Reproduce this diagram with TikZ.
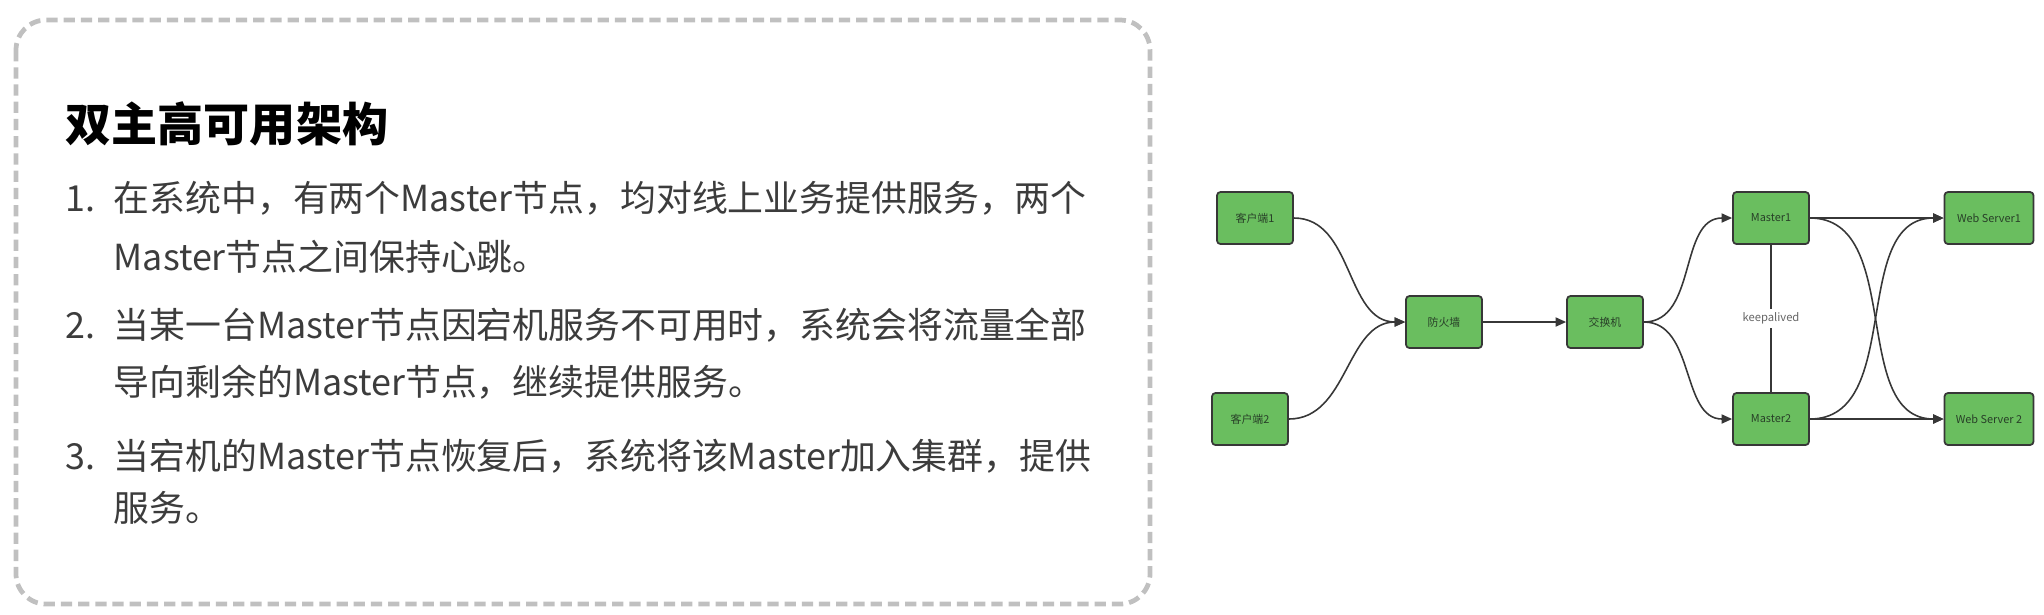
\documentclass[tikz,border=0pt]{standalone}
\usepackage{fontspec}
\setmainfont{Noto Sans CJK SC}
\usepackage{xcolor}
\definecolor{hostgreen}{RGB}{106,190,95}
\definecolor{hosttext}{RGB}{40,64,40}
\definecolor{framegray}{RGB}{192,192,192}
\definecolor{bodygray}{RGB}{60,60,60}
\definecolor{linkgray}{RGB}{55,55,55}
\usepackage{tikz}
\usetikzlibrary{arrows.meta, positioning}

\begin{document}
\begin{tikzpicture}[x=0.01cm, y=-0.01cm,
  host/.style={draw=linkgray, line width=0.5pt, fill=hostgreen, rounded corners=1pt,
               minimum width=0.76cm, minimum height=0.52cm, inner sep=0pt,
               font=\fontsize{3.1}{3.6}\selectfont, text=hosttext},
  link/.style={draw=linkgray, line width=0.45pt, -{Triangle[length=3pt, width=2.6pt]}},
  item/.style={anchor=west, inner sep=0pt, text=bodygray, font=\fontsize{10.2}{12}\selectfont}]
\useasboundingbox (0,0) rectangle (2044,614);
\draw[framegray, line width=1.35pt, dash pattern=on 3.2pt off 1.7pt, rounded corners=0.3cm]
  (16,20) rectangle (1150,604);
\node[anchor=west, inner sep=0pt, font=\fontsize{13.1}{15}\selectfont\bfseries] (title) at (65,124) {双主高可用架构};
\foreach \i/\y/\num/\txt in {
  1/198/1./{在系统中，有两个Master节点，均对线上业务提供服务，两个},
  2/257//{Master节点之间保持心跳。},
  3/325/2./{当某一台Master节点因宕机服务不可用时，系统会将流量全部},
  4/382//{导向剩余的Master节点，继续提供服务。},
  5/456/3./{当宕机的Master节点恢复后，系统将该Master加入集群，提供},
  6/508//{服务。}
}{
  \node[item] (line\i) at (65,\y) {\makebox[0.48cm][l]{\num}\txt};
}
\node[host] (client1) at (1255,218) {客户端1};
\node[host] (client2) at (1250,419) {客户端2};
\node[host] (firewall) at (1444,322) {防火墙};
\node[host] (switch) at (1605,322) {交换机};
\node[host] (master1) at (1771,218) {Master1};
\node[host] (master2) at (1771,419) {Master2};
\node[host, minimum width=0.89cm] (web1) at (1989,218) {Web Server1};
\node[host, minimum width=0.89cm] (web2) at (1989,419) {Web Server 2};
\draw[link] (client1.east) to[out=0, in=180] (firewall.west);
\draw[link] (client2.east) to[out=0, in=180] (firewall.west);
\draw[link] (firewall) -- (switch);
\draw[link] (switch.east) to[out=0, in=180] (master1.west);
\draw[link] (switch.east) to[out=0, in=180] (master2.west);
\draw[link] (master1) -- (web1);
\draw[link] (master2) -- (web2);
\draw[link] (master1.east) to[out=0, in=180] (web2.west);
\draw[link] (master2.east) to[out=0, in=180] (web1.west);
\draw[linkgray, line width=0.45pt] (master1) -- node[fill=white, inner sep=1pt, text=black!60,
  font=\fontsize{3.2}{3.6}\selectfont] (keep) {keepalived} (master2);
\end{tikzpicture}
\end{document}
